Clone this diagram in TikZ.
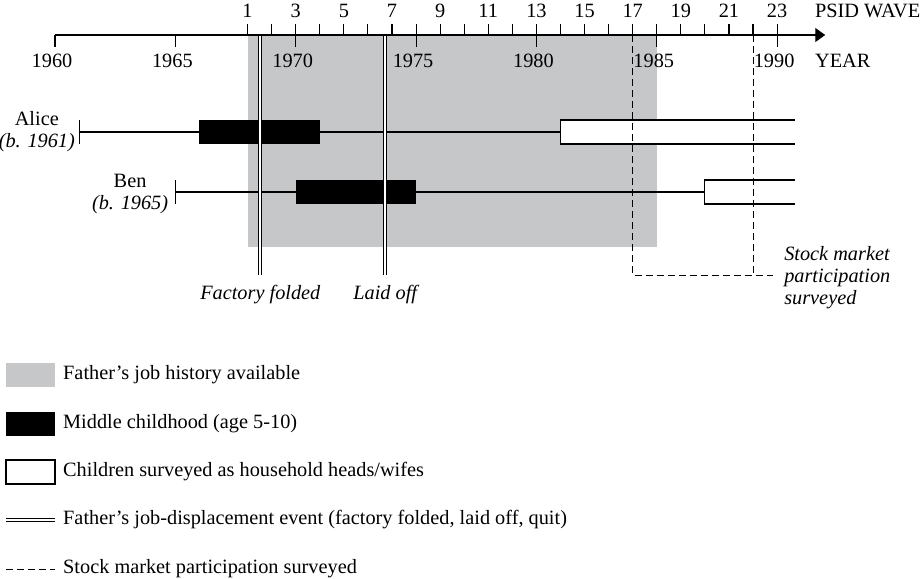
\documentclass[tikz,border=0pt]{standalone}
\usepackage{fontspec}
\setmainfont{Liberation Serif}
\usetikzlibrary{positioning,arrows.meta}
\definecolor{hist}{HTML}{C6C7C9}
\newcommand{\figfont}{\fontsize{20.3}{22}\selectfont}

\begin{document}
\begin{tikzpicture}[
  x=1pt, y=-1pt, font=\figfont, >={Triangle[length=10pt,width=14pt]},
  axisline/.style={line width=1.1pt},
  life/.style={line width=1.1pt},
  midbar/.style={fill=black},
  headbox/.style={line width=1.1pt},
  event/.style={draw=black, double=white, line width=1.2pt, double distance=1.8pt},
  surv/.style={line width=1pt, dash pattern=on 7pt off 4pt},
  kid/.style={align=center, inner sep=0pt},
  note/.style={font=\figfont\itshape, inner sep=0pt},
  tick/.style={anchor=base, inner sep=0pt},
  keybox/.style={minimum width=49pt, minimum height=24pt, inner sep=0pt, outer sep=0pt},
  keytext/.style={inner sep=0pt, anchor=west}]

\useasboundingbox (0,0) rectangle (920,578);

\begin{scope}[xshift=55pt, x=24.07pt]
% father's job history window
\fill[hist] (8,35) rectangle (25,247);

% children
\coordinate (alice) at (1,132);
\coordinate (ben) at (5,192);
\node (alicelab) [kid, left=4pt of alice] {Alice\\\textit{(b. 1961)}};
\node (benlab) [kid, left=7pt of ben, yshift=-2pt] {Ben\\\textit{(b. 1965)}};

\draw[life] (1,120) -- (1,144);
\draw[life] (alice) -- (21,132);
\fill[midbar] (6,120) rectangle (11,144);
\fill[white] (21,120) rectangle (30.74,144);
\draw[headbox] (30.74,120) -- (21,120) -- (21,144) -- (30.74,144);

\draw[life] (5,180) -- (5,204);
\draw[life] (ben) -- (27,192);
\fill[midbar] (10,180) rectangle (15,204);
\fill[white] (27,180) rectangle (30.74,204);
\draw[headbox] (30.74,180) -- (27,180) -- (27,204) -- (30.74,204);

% stock market waves
\draw[surv] (24,35) -- (24,275) -- (29.83,275);
\draw[surv] (29,35) -- (29,275);
\node (smp) [note, anchor=west, align=left] at (30.29,278) {Stock market\\participation\\surveyed};

% displacement events
\draw[event] (8.53,35) -- (8.53,275) coordinate (ff);
\draw[event] (13.72,35) -- (13.72,275) coordinate (lo);
\node (fflab) [note, below=10pt of ff] {Factory folded};
\node (lolab) [note, below=10pt of lo] {Laid off};

% axis
\draw[axisline,->] (0,35) -- (32,35);
\foreach \y [evaluate=\y as \yl using int(1960+\y)] in {0,5,...,30}{
  \draw[axisline] (\y,35) -- (\y,47);
  \node (y\yl) [tick, xshift=-3pt] at (\y,67) {\yl};
}
\foreach \w in {1,...,23}
  \draw[axisline] (\w+7,35) -- (\w+7,24);
\foreach \w in {1,3,...,23}
  \node (w\w) [tick] at (\w+7,18) {\w};
\node (wave) [tick, anchor=base west] at (31.57,18) {PSID WAVE};
\node (year) [tick, anchor=base west] at (31.57,67) {YEAR};
\end{scope}

% legend
\node (kHist) [keybox, fill=hist] at (30.5,375) {};
\node (kMid) [keybox, fill=black] at (30.5,424) {};
\node (kHead) [keybox, draw, headbox, fill=white] at (30.5,472) {};
\node (kEvent) [keybox] at (30.5,520) {};
\node (kSurv) [keybox] at (30.5,569) {};
\draw[event] (kEvent.west) -- (kEvent.east);
\draw[surv] (kSurv.west) -- (kSurv.east);

\node (tHist) [keytext, right=8pt of kHist] {Father’s job history available};
\node (tMid) [keytext, right=8pt of kMid] {Middle childhood (age 5-10)};
\node (tHead) [keytext, right=8pt of kHead] {Children surveyed as household heads/wifes};
\node (tEvent) [keytext, right=8pt of kEvent] {Father’s job-displacement event (factory folded, laid off, quit)};
\node (tSurv) [keytext, right=8pt of kSurv] {Stock market participation surveyed};
\end{tikzpicture}
\end{document}
